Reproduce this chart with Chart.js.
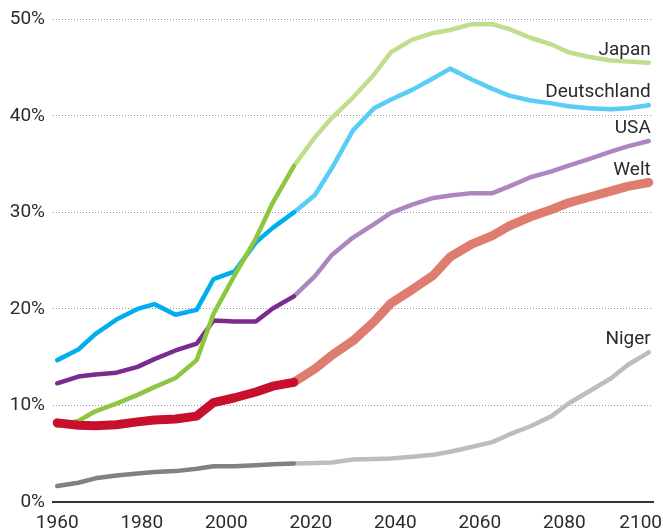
<!DOCTYPE html>
<html>
<head>
<meta charset="utf-8">
<script src="https://cdn.jsdelivr.net/npm/chart.js@4.4.1/dist/chart.umd.min.js"></script>
<style>
  html, body { margin: 0; padding: 0; background: #ffffff; }
  #wrap { width: 663px; height: 531px; position: relative; }
</style>
</head>
<body>
<div id="wrap"><canvas id="chart"></canvas></div>
<script>
// ---- data ----
const years = [1960, 1965, 1969, 1974, 1979, 1983, 1988, 1993, 1997, 2002, 2007, 2011, 2016,
               2021, 2025, 2030, 2035, 2039, 2044, 2049, 2053, 2058, 2063, 2067, 2072, 2077,
               2081, 2086, 2091, 2095, 2100];
const splitYear = 2016; // last observed year, projections follow

const japan = [7.9, 8.4, 9.4, 10.2, 11.1, 11.9, 12.85, 14.7, 19.5, 23.5, 27.3, 31.0, 34.8,
               37.8, 39.8, 41.9, 44.3, 46.6, 47.9, 48.6, 48.9, 49.5, 49.5, 49.0, 48.1, 47.4,
               46.6, 46.1, 45.75, 45.65, 45.5];
const deutschland = [14.7, 15.8, 17.4, 18.9, 20.0, 20.5, 19.4, 19.9, 23.1, 23.9, 26.9, 28.4, 30.0,
                     31.8, 34.6, 38.5, 40.8, 41.7, 42.7, 43.9, 44.9, 43.8, 42.8, 42.1, 41.6, 41.3,
                     41.0, 40.8, 40.7, 40.8, 41.1];
const usa = [12.3, 13.0, 13.2, 13.4, 14.0, 14.8, 15.7, 16.4, 18.8, 18.7, 18.7, 20.05, 21.3,
             23.4, 25.6, 27.4, 28.8, 29.95, 30.8, 31.5, 31.75, 32.0, 32.0, 32.7, 33.65, 34.25,
             34.85, 35.55, 36.3, 36.85, 37.4];
const welt = [8.2, 7.95, 7.9, 8.0, 8.3, 8.5, 8.6, 8.9, 10.3, 10.8, 11.4, 12.0, 12.4,
              13.8, 15.2, 16.7, 18.7, 20.6, 22.0, 23.5, 25.4, 26.7, 27.6, 28.6, 29.55, 30.3,
              31.0, 31.6, 32.2, 32.7, 33.1];
const niger = [1.65, 2.0, 2.45, 2.75, 2.95, 3.1, 3.2, 3.45, 3.7, 3.7, 3.8, 3.9, 4.0,
               4.03, 4.1, 4.4, 4.45, 4.5, 4.7, 4.9, 5.2, 5.7, 6.2, 7.0, 7.85, 8.9,
               10.2, 11.5, 12.8, 14.2, 15.5];

const seriesNames = ['Welt', 'Japan', 'Deutschland', 'USA', 'Niger'];
const seriesValues = [welt, japan, deutschland, usa, niger];
const xTicks = [1960, 1980, 2000, 2020, 2040, 2060, 2080, 2100];
const yTicks = [0, 10, 20, 30, 40, 50];

// ---- styling ----
const histColors = ['#c8102e', '#8dc63f', '#00aeef', '#7b2b8f', '#808085'];
const projColors = ['#de7c70', '#c0de8e', '#58cdf5', '#ad86bf', '#bdbdc0'];
const lineWidths = [9, 4.5, 4.5, 4.5, 4.5];
const textColor = '#2b2b2b';
const fontFamily = 'Roboto, "Liberation Sans", sans-serif';

const datasets = [];
seriesNames.forEach((name, i) => {
  const vals = seriesValues[i];
  const hist = [], proj = [];
  years.forEach((yr, k) => {
    if (yr <= splitYear) hist.push({ x: yr, y: vals[k] });
    if (yr >= splitYear) proj.push({ x: yr, y: vals[k] });
  });
  const common = {
    borderWidth: lineWidths[i], pointRadius: 0, pointHoverRadius: 0, tension: 0,
    borderCapStyle: 'round', borderJoinStyle: 'round', fill: false, clip: false
  };
  datasets.push(Object.assign({ label: name + ' (historisch)', data: hist,
    borderColor: histColors[i], order: i * 2 }, common));
  datasets.push(Object.assign({ label: name, data: proj, endLabel: name,
    borderColor: projColors[i], order: i * 2 + 1 }, common));
});

const labelPlugin = {
  id: 'labelPlugin',
  afterDatasetsDraw(chart) {
    const ctx = chart.ctx;
    const xs = chart.scales.x;
    ctx.save();
    ctx.font = '19px ' + fontFamily;
    ctx.fillStyle = textColor;
    // x-axis tick labels (kept inside the canvas)
    ctx.textAlign = 'center';
    ctx.textBaseline = 'alphabetic';
    xs.ticks.forEach(t => {
      const label = String(t.value);
      const w = ctx.measureText(label).width;
      let cx = xs.getPixelForValue(t.value);
      cx = Math.min(cx, chart.width - 1 - w / 2);
      cx = Math.max(cx, w / 2 + 1);
      ctx.fillText(label, cx, xs.top + 26);
    });
    // series names at line ends
    ctx.textAlign = 'right';
    chart.data.datasets.forEach((ds, i) => {
      if (!ds.endLabel) return;
      const meta = chart.getDatasetMeta(i);
      const pt = meta.data[meta.data.length - 1];
      ctx.fillText(ds.endLabel, pt.x + 2, pt.y - 8);
    });
    ctx.restore();
  }
};

new Chart(document.getElementById('chart'), {
  type: 'line',
  data: { datasets },
  plugins: [labelPlugin],
  options: {
    responsive: true,
    maintainAspectRatio: false,
    animation: false,
    devicePixelRatio: 1,
    layout: { padding: { top: 16, right: 10, left: 0, bottom: 0 } },
    plugins: { legend: { display: false }, tooltip: { enabled: false } },
    scales: {
      x: {
        type: 'linear',
        min: 1959,
        max: 2101,
        afterBuildTicks: s => { s.ticks = xTicks.map(v => ({ value: v })); },
        afterFit: s => { s.height = 29; s.paddingLeft = 0; s.paddingRight = 0; },
        ticks: { display: false },
        grid: { display: false },
        border: { display: true, color: '#333333', width: 2 }
      },
      y: {
        min: 0,
        max: 50,
        afterBuildTicks: s => { s.ticks = yTicks.map(v => ({ value: v })); },
        afterFit: s => { s.width = 53; },
        ticks: {
          callback: v => v + '%',
          color: textColor,
          font: { family: fontFamily, size: 19 },
          padding: 8
        },
        grid: {
          color: c => (c.tick && c.tick.value === 0) ? 'rgba(0,0,0,0)' : '#9a9a9a',
          lineWidth: 1,
          drawTicks: false,
          borderDash: [1, 2]
        },
        border: { display: false, dash: [1, 2] }
      }
    }
  }
});
</script>
</body>
</html>
